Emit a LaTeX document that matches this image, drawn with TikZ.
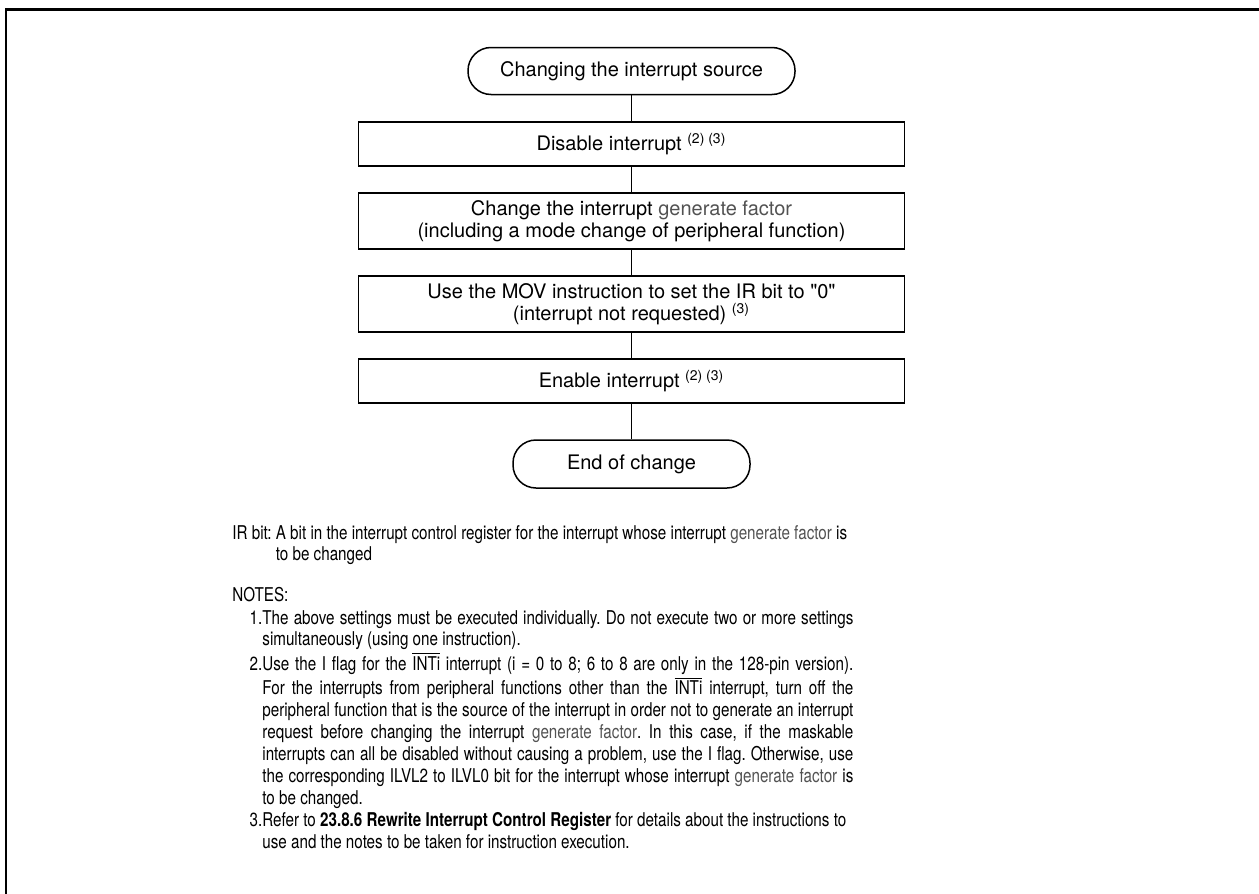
\documentclass[tikz,border=0pt]{standalone}
\usepackage{fontspec}
\setmainfont{TeX Gyre Heros}
\newfontfamily\notefont{TeX Gyre Heros}[FakeStretch=0.8]
\usetikzlibrary{positioning}
\frenchspacing
\definecolor{factorgray}{gray}{0.32}
\newcommand{\genfac}{\textcolor{factorgray}{generate factor}}
\newcommand{\noteref}[1]{\textsuperscript{#1}}
\newcommand{\inti}{$\overline{\mbox{INTi}}$}
\newcommand{\notenum}[1]{\makebox[15pt][r]{#1}}
\newlength{\notewidth}
\setlength{\notewidth}{295.5pt}
\newcommand{\jline}[1]{\makebox[\notewidth][s]{#1}}

\begin{document}
\begin{tikzpicture}[x=0.5pt,y=-0.5pt,
    every node/.style={font=\fontsize{10}{11}\selectfont},
    stepbox/.style={draw, line width=0.75pt, minimum width=273pt, align=center, inner sep=0pt},
    terminal/.style={draw, line width=0.75pt, rounded corners=11.5pt, inner sep=0pt},
    link/.style={line width=0.75pt},
    notetext/.style={inner sep=0pt, align=left, font=\notefont\fontsize{9.5}{10.95}\selectfont}]
    \useasboundingbox (0,0) rectangle (1259,894);

    % Cornice esterna (solo lato sinistro e superiore visibili)
    \draw[line width=1.3pt] (1265,9.3) -- (6,9.3) -- (6,900);

    % Blocchi del diagramma di flusso
    \node[terminal, minimum width=163.5pt, minimum height=23.5pt] (start) at (631.5,71) {Changing the interrupt source};
    \node[stepbox, minimum height=22pt] (disable) at (631.5,144) {Disable interrupt \noteref{(2) (3)}};
    \node[stepbox, minimum height=28pt] (factor) at (631.5,221) {Change the interrupt \genfac\\(including a mode change of peripheral function)};
    \node[stepbox, minimum height=28pt] (clearir) at (631.5,304) {Use the MOV instruction to set the IR bit to \textquotedbl 0\textquotedbl\\(interrupt not requested) \noteref{(3)}};
    \node[stepbox, minimum height=22pt] (enable) at (631.5,381) {Enable interrupt \noteref{(2) (3)}};
    \node[terminal, minimum width=118.5pt, minimum height=24pt] (finish) at (631.5,464) {End of change};

    % Collegamenti
    \draw[link] (start) -- (disable);
    \draw[link] (disable) -- (factor);
    \draw[link] (factor) -- (clearir);
    \draw[link] (clearir) -- (enable);
    \draw[link] (enable) -- (finish);

    % Legenda e note
    \node[notetext, anchor=base west] (irbit) at (232,539) {%
        \begin{tabular}[t]{@{}l@{ }l@{}}
        IR bit: & A bit in the interrupt control register for the interrupt whose interrupt \genfac{} is\\
                & to be changed
        \end{tabular}};
    \node[notetext, anchor=base west] (noteshead) at (232,601) {NOTES:};
    \node[notetext, anchor=base west] (notes) at (232,624) {%
        \begin{tabular}[t]{@{}l@{}l@{}}
        \notenum{1.} & \jline{The above settings must be executed individually. Do not execute two or more settings}\\
           & simultaneously (using one instruction).\\
        \notenum{2.} & \jline{Use the I flag for the \inti{} interrupt (i = 0 to 8; 6 to 8 are only in the 128-pin version).}\\
           & \jline{For the interrupts from peripheral functions other than the \inti{} interrupt, turn off the}\\
           & \jline{peripheral function that is the source of the interrupt in order not to generate an interrupt}\\
           & \jline{request before changing the interrupt \genfac. In this case, if the maskable}\\
           & \jline{interrupts can all be disabled without causing a problem, use the I flag. Otherwise, use}\\
           & \jline{the corresponding ILVL2 to ILVL0 bit for the interrupt whose interrupt \genfac{} is}\\
           & to be changed.\\
        \notenum{3.} & Refer to \textbf{23.8.6 Rewrite Interrupt Control Register} for details about the instructions to\\
           & use and the notes to be taken for instruction execution.
        \end{tabular}};
\end{tikzpicture}
\end{document}
